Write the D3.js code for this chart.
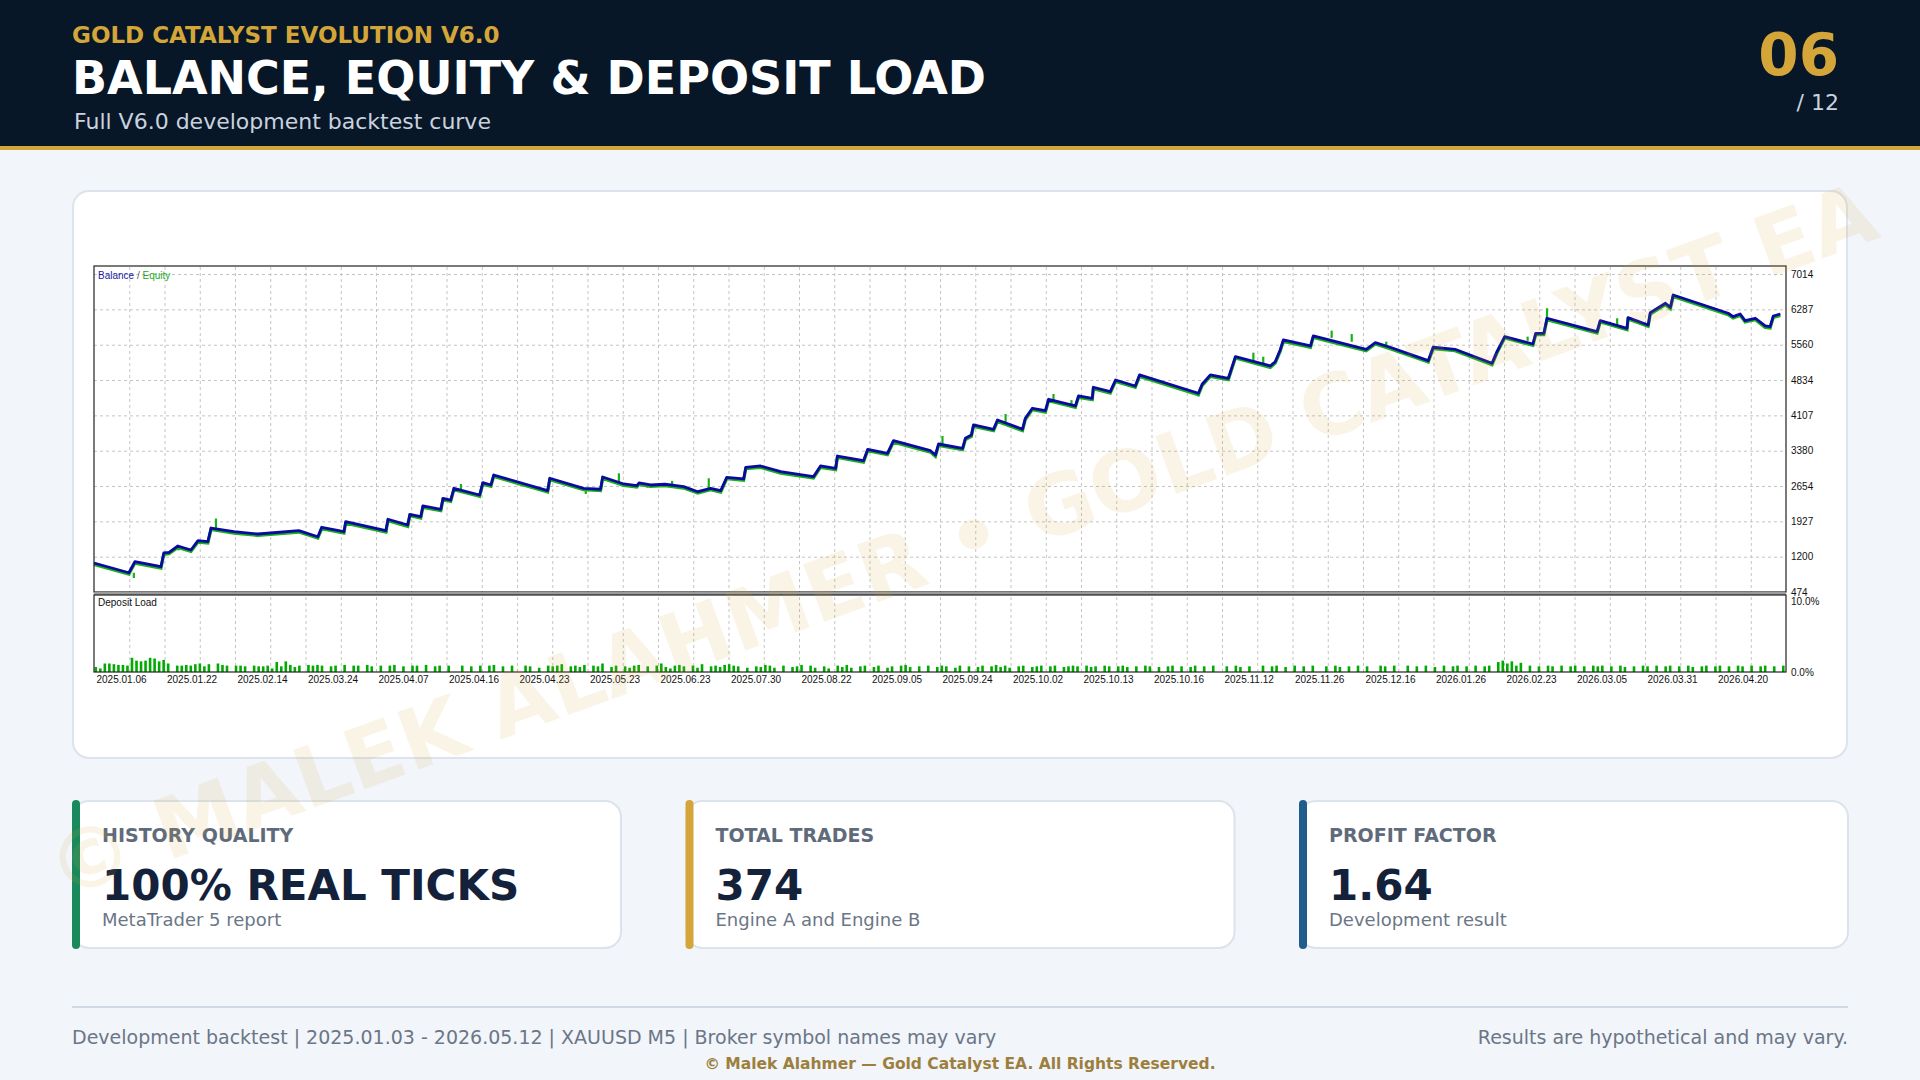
<!DOCTYPE html>
<html>
<head>
<meta charset="utf-8">
<script src="https://cdn.jsdelivr.net/npm/d3@7"></script>
<style>
  body { margin: 0; background: #f2f5fa; }
  svg { display: block; }
  .mt text { font-family: "Liberation Sans", Arial, sans-serif; font-size: 10px; fill: #111; }
</style>
</head>
<body>
<svg id="page" width="1920" height="1080"></svg>
<script>
// ---- data ----
const dateLabels = ["2025.01.06", "2025.01.22", "2025.02.14", "2025.03.24", "2025.04.07", "2025.04.16",
  "2025.04.23", "2025.05.23", "2025.06.23", "2025.07.30", "2025.08.22", "2025.09.05", "2025.09.24",
  "2025.10.02", "2025.10.13", "2025.10.16", "2025.11.12", "2025.11.26", "2025.12.16", "2026.01.26",
  "2026.02.23", "2026.03.05", "2026.03.31", "2026.04.20"];

const yTicks = [474, 1200, 1927, 2654, 3380, 4107, 4834, 5560, 6287, 7014];
const loadTicks = [0, 10];

// balance curve, [grid column, balance]
const balance = [[0, 1070], [0.99, 870], [1.16, 1097], [1.90, 994], [1.98, 1277], [2.13, 1290], [2.38, 1420],
  [2.75, 1338], [2.95, 1530], [3.23, 1510], [3.32, 1790], [3.97, 1714], [4.65, 1667], [5.81, 1735],
  [6.35, 1611], [6.46, 1805], [7.09, 1714], [7.14, 1920], [8.28, 1735], [8.34, 1970], [8.90, 1852],
  [8.96, 2072], [9.27, 2023], [9.33, 2243], [9.84, 2175], [9.90, 2401], [10.12, 2366], [10.21, 2607],
  [10.94, 2469], [11.03, 2722], [11.26, 2675], [11.34, 2881], [12.87, 2558], [12.93, 2813], [13.89, 2607],
  [14.37, 2587], [14.43, 2840], [15.03, 2696], [15.40, 2660], [15.46, 2716], [15.79, 2675], [16.20, 2690],
  [16.73, 2640], [17.13, 2537], [17.49, 2607], [17.78, 2558], [17.95, 2833], [18.43, 2800], [18.49, 3039],
  [18.91, 3066], [19.48, 2949], [20.41, 2846], [20.61, 3066], [21.04, 3018], [21.09, 3271], [21.83, 3175],
  [21.95, 3409], [22.51, 3327], [22.68, 3586], [23.73, 3380], [23.87, 3292], [23.96, 3518], [24.64, 3430],
  [24.72, 3636], [24.89, 3703], [24.95, 3909], [25.52, 3821], [25.63, 4012], [26.34, 3821], [26.42, 4047],
  [26.62, 4253], [26.99, 4204], [27.08, 4438], [27.84, 4300], [27.93, 4506], [28.32, 4458], [28.35, 4685],
  [28.83, 4595], [28.98, 4835], [29.54, 4711], [29.66, 4938], [31.33, 4561], [31.44, 4753], [31.67, 4938],
  [32.18, 4870], [32.38, 5314], [33.37, 5123], [33.51, 5211], [33.65, 5452], [33.74, 5658], [34.51, 5534],
  [34.59, 5740], [36.09, 5466], [36.35, 5602], [36.77, 5508], [37.85, 5232], [37.99, 5508], [38.61, 5466],
  [39.66, 5178], [39.80, 5417], [40.02, 5726], [40.82, 5575], [40.90, 5795], [41.13, 5795], [41.22, 6104],
  [42.64, 5828], [42.73, 6055], [43.49, 5898], [43.52, 6117], [44.09, 5966], [44.15, 6219], [44.58, 6413],
  [44.72, 6330], [44.80, 6583], [46.36, 6207], [46.50, 6137], [46.70, 6192], [46.84, 6055], [47.13, 6104],
  [47.41, 5946], [47.55, 5932], [47.64, 6151], [47.84, 6192]];

// equity excursions away from balance, [grid column, from, to]
const equitySpikes = [[1.13, 870, 762], [2.40, 1400, 1330], [3.46, 1790, 1985], [4.20, 1700, 1650],
  [6.35, 1611, 1560], [8.30, 1740, 1690], [10.41, 2560, 2695], [12.20, 2700, 2650], [13.95, 2600, 2490],
  [14.89, 2720, 2915], [15.70, 2680, 2620], [16.40, 2680, 2760], [17.13, 2537, 2490], [17.44, 2590, 2813],
  [19.90, 2900, 2850], [21.80, 3180, 3130], [23.87, 3292, 3250], [24.07, 3500, 3683], [25.86, 3950, 4135],
  [26.34, 3821, 3770], [27.22, 4420, 4547], [27.73, 4330, 4420], [30.20, 4830, 4780], [31.33, 4561, 4500],
  [32.89, 5220, 5397], [33.17, 5170, 5314], [35.11, 5700, 5849], [35.68, 5620, 5781], [36.66, 5515, 5623],
  [37.85, 5232, 5180], [39.66, 5178, 5120], [40.67, 5640, 5726], [41.22, 6104, 6310], [42.10, 5930, 5880],
  [43.21, 5950, 6104], [45.60, 6400, 6350], [47.55, 5932, 5880]];

// deposit load in %, one value per trade (0 = no bar)
const depositLoad = [
  0.7, 0.5, 1.2, 1.2, 1.1, 1.0, 1.0, 0.9, 2.0, 1.6, 1.5, 1.6, 2.0, 1.9, 1.5, 1.7, 1.2,
  0, 0.9, 0.9, 1.0, 0.9, 1.1, 1.2, 0.8, 1.1, 0, 1.2, 1.0, 0.9,
  0, 0.9, 0.9, 0.8, 0, 0.9, 0.8, 0.8, 0.9, 0.5, 1.4, 0.8, 1.5, 1.0, 0.7,
  0.9, 0, 1.0, 0.9, 1.0, 0.9, 0, 0.8, 0.9, 0, 1.0, 0, 0.9, 0.9, 0, 1.0, 0.8, 0, 0.9, 0,
  0.9, 1.0, 0, 0.8, 0, 0.9, 0.9, 0, 1.0, 0, 0.8, 0.9, 0, 0.9, 0, 0, 0.9, 0, 0.8, 0,
  0.9, 0, 0.9, 1.0, 0, 0.8, 0, 0.9, 0, 0, 0.9, 0.8, 0, 0.6, 0, 0.9, 0.8, 0.9, 1.1, 0,
  0.8, 0.9, 0.7, 1.0, 0, 0.9, 0.8, 1.2, 0, 0.7, 0.9, 0, 0.8, 0.6, 0.9, 1.0, 0, 0.8, 0, 0.9,
  1.2, 0.7, 0.5, 0.9, 1.0, 0.8, 0, 0.9, 0.6, 1.1, 0, 0.8, 0.9, 0.7, 1.0, 1.1, 0.9, 0.8, 0, 0.6,
  0, 0.8, 0.7, 1.0, 0.9, 0.6, 0, 0.9, 0, 0.7, 0.8, 1.0, 0, 0.9, 0.6, 0, 0.8, 0.5, 0, 0.9,
  0.7, 1.0, 0.6, 0, 0.8, 0.9, 0, 0.7, 0.9, 0, 0.6, 0.8, 0, 0.9, 1.0, 0.7, 0, 0.8, 0, 0.9,
  0, 0.7, 0.9, 0.8, 0, 0.6, 0.9, 0, 0.8, 0, 0.7, 0.9, 0, 0.8, 1.0, 0.7, 0.9, 0.6, 0, 0.8,
  0.9, 0, 0.7, 0.8, 0.9, 0, 0.8, 0.9, 0, 0.7, 0.8, 0.9, 0.8, 0, 0.9, 0.7, 0.8, 0, 0.9, 0.8,
  0, 0.8, 0.9, 0.7, 0, 0.8, 0, 0.9, 0.8, 0, 0.7, 0, 0.8, 0.9, 0, 0.8, 0, 0.7, 0.9, 0,
  0.8, 0, 0.9, 0, 0, 0.8, 0, 0.9, 0.7, 0, 0.8, 0, 0, 0.9, 0, 0.8, 0.9, 0, 0.7, 0,
  0.9, 0, 0.8, 0, 0.9, 0, 0, 0.8, 0, 0.9, 0.7, 0, 0.8, 0, 0.9, 0, 0.8, 0, 0, 0.9,
  0.8, 0, 0.9, 0, 0, 0.9, 0, 0.8, 0, 0.9, 0, 0.7, 0, 0.9, 0, 0.8, 0.9, 0, 0.8, 0,
  0.9, 0, 0.8, 0.9, 0, 1.4, 1.6, 1.2, 1.5, 0.9, 1.3, 0, 0.9, 0, 0.8, 0, 0.9, 0.8, 0, 0.9,
  0, 0.8, 0.9, 0, 0.8, 0, 0.9, 0.8, 0.9, 0, 0.8, 0, 0.9, 0.7, 0, 0.8, 0, 0.9, 0.8, 0,
  0.9, 0, 0.8, 0.9, 0, 0.8, 0, 0.9, 0.7, 0, 0.8, 0.9, 0, 0.8, 0.9, 0, 0.8, 0, 0.9, 0.8,
  0, 0.9, 0, 0.8, 0.9, 0, 0.8, 0, 0.9];

const cardLabels = ["HISTORY QUALITY", "TOTAL TRADES", "PROFIT FACTOR"];
const cardValues = ["100% REAL TICKS", "374", "1.64"];
const cardNotes = ["MetaTrader 5 report", "Engine A and Engine B", "Development result"];
const cardAccents = ["#1a8a5c", "#d4a63a", "#1f5d8c"];

const svg = d3.select("#page");
const font = "'DejaVu Sans', Verdana, sans-serif";

svg.append("rect").attr("width", 1920).attr("height", 1080).attr("fill", "#f2f5fa");

// ---- header ----
svg.append("rect").attr("width", 1920).attr("height", 146).attr("fill", "#071727");
svg.append("rect").attr("y", 146).attr("width", 1920).attr("height", 4).attr("fill", "#d4a63a");

function label(x, y, txt, size, weight, color, anchor) {
  return svg.append("text")
    .attr("x", x).attr("y", y)
    .attr("font-family", font)
    .attr("font-size", size)
    .attr("font-weight", weight)
    .attr("fill", color)
    .attr("text-anchor", anchor || "start")
    .text(txt);
}

label(72, 43, "GOLD CATALYST EVOLUTION V6.0", 23, "bold", "#d4a63a");
label(72, 94, "BALANCE, EQUITY & DEPOSIT LOAD", 46, "bold", "#ffffff");
label(74, 129, "Full V6.0 development backtest curve", 22, "normal", "#c9d2de");
label(1839, 75, "06", 58, "bold", "#d4a63a", "end");
label(1839, 110, "/ 12", 22, "normal", "#c9d2de", "end");

// ---- chart panel ----
svg.append("rect")
  .attr("x", 73).attr("y", 191).attr("width", 1774).attr("height", 567).attr("rx", 16)
  .attr("fill", "#ffffff").attr("stroke", "#dce3ec").attr("stroke-width", 2);

const pLeft = 94, pRight = 1786, pTop = 266, pMid = 592, pLowTop = 595, pBottom = 672;

const x = d3.scaleLinear().domain([0, 48]).range([pLeft, pRight]);
const y = d3.scaleLinear().domain([474, 7179]).range([pMid, pTop]);
const yLoad = d3.scaleLinear().domain([0, 10.85]).range([pBottom, pLowTop]);
const xTrade = d3.scaleLinear().domain([0, depositLoad.length]).range([pLeft, pRight]);

const mt = svg.append("g").attr("class", "mt");

// vertical grid, both panes
mt.append("g")
  .attr("transform", `translate(0,${pBottom})`)
  .call(d3.axisBottom(x).tickValues(d3.range(1, 48)).tickSize(-(pBottom - pTop)).tickFormat(""))
  .call(g => g.select(".domain").remove())
  .call(g => g.selectAll("line").attr("stroke", "#c4c4c4").attr("stroke-dasharray", "3,3"));

// horizontal grid, upper pane
mt.append("g")
  .attr("transform", `translate(${pLeft},0)`)
  .call(d3.axisLeft(y).tickValues(yTicks.slice(1)).tickSize(-(pRight - pLeft)).tickFormat(""))
  .call(g => g.select(".domain").remove())
  .call(g => g.selectAll("line").attr("stroke", "#c4c4c4").attr("stroke-dasharray", "3,3"));

// deposit load bars
mt.append("g").selectAll("rect")
  .data(depositLoad.map((v, i) => [i, v]).filter(d => d[1] > 0))
  .join("rect")
  .attr("x", d => xTrade(d[0]) + 0.5)
  .attr("width", 2.6)
  .attr("y", d => yLoad(d[1]))
  .attr("height", d => pBottom - yLoad(d[1]))
  .attr("fill", "#00aa00");

// balance / equity
const line = d3.line().x(d => x(d[0])).y(d => y(d[1]));

mt.append("path")
  .datum(balance)
  .attr("d", line)
  .attr("transform", "translate(0,1.4)")
  .attr("fill", "none")
  .attr("stroke", "#19b019")
  .attr("stroke-width", 3.2);

mt.append("g").selectAll("line")
  .data(equitySpikes)
  .join("line")
  .attr("x1", d => x(d[0])).attr("x2", d => x(d[0]))
  .attr("y1", d => y(d[1])).attr("y2", d => y(d[2]))
  .attr("stroke", "#19b019")
  .attr("stroke-width", 2.2);

mt.append("path")
  .datum(balance)
  .attr("d", line)
  .attr("fill", "none")
  .attr("stroke", "#0a0aa0")
  .attr("stroke-width", 2.8)
  .attr("stroke-linejoin", "round");

// pane frames
mt.append("rect").attr("x", pLeft).attr("y", pTop).attr("width", pRight - pLeft).attr("height", pMid - pTop)
  .attr("fill", "none").attr("stroke", "#222").attr("stroke-width", 1.2);
mt.append("rect").attr("x", pLeft).attr("y", pMid).attr("width", pRight - pLeft).attr("height", pLowTop - pMid)
  .attr("fill", "#9a9a9a");
mt.append("rect").attr("x", pLeft).attr("y", pLowTop).attr("width", pRight - pLeft).attr("height", pBottom - pLowTop)
  .attr("fill", "none").attr("stroke", "#222").attr("stroke-width", 1.2);

// axes
mt.append("g")
  .attr("transform", `translate(${pRight},0)`)
  .call(d3.axisRight(y).tickValues(yTicks).tickSize(0).tickPadding(5).tickFormat(d3.format("d")))
  .call(g => g.select(".domain").remove());

mt.append("g")
  .attr("transform", `translate(${pRight},0)`)
  .call(d3.axisRight(yLoad).tickValues(loadTicks).tickSize(0).tickPadding(5).tickFormat(d => d.toFixed(1) + "%"))
  .call(g => g.select(".domain").remove());

mt.append("g")
  .attr("transform", `translate(0,${pBottom})`)
  .call(d3.axisBottom(x).tickValues(d3.range(0, 48, 2)).tickSize(0).tickPadding(4)
    .tickFormat((d, i) => dateLabels[i]))
  .call(g => g.select(".domain").remove())
  .call(g => g.selectAll("text").attr("text-anchor", "start").attr("dx", 2));

const legend = mt.append("text").attr("x", pLeft + 4).attr("y", 279);
legend.append("tspan").attr("fill", "#1a1aa8").text("Balance");
legend.append("tspan").attr("fill", "#556").text(" / ");
legend.append("tspan").attr("fill", "#22aa22").text("Equity");

mt.append("text").attr("x", pLeft + 4).attr("y", 606).text("Deposit Load");

// ---- cards ----
cardLabels.forEach((lab, i) => {
  const x0 = 72 + i * 613.5;
  svg.append("rect")
    .attr("x", x0 + 1).attr("y", 801).attr("width", 548).attr("height", 147).attr("rx", 16)
    .attr("fill", "#ffffff").attr("stroke", "#dce3ec").attr("stroke-width", 2);
  svg.append("rect")
    .attr("x", x0).attr("y", 800).attr("width", 8).attr("height", 149).attr("rx", 4)
    .attr("fill", cardAccents[i]);
  label(x0 + 30, 842, lab, 19, "bold", "#5f6b7b");
  label(x0 + 30, 900, cardValues[i], 42, "bold", "#14213a");
  label(x0 + 30, 926, cardNotes[i], 18, "normal", "#6b7686");
});

// ---- footer ----
svg.append("rect").attr("x", 72).attr("y", 1006).attr("width", 1776).attr("height", 2).attr("fill", "#cfd8e3");
label(72, 1044, "Development backtest | 2025.01.03 - 2026.05.12 | XAUUSD M5 | Broker symbol names may vary",
  19, "normal", "#6b7687");
label(1848, 1044, "Results are hypothetical and may vary.", 19, "normal", "#6b7687", "end");
label(960, 1069, "\u00a9 Malek Alahmer \u2014 Gold Catalyst EA. All Rights Reserved.", 15.5, "bold", "#9c7f3c", "middle");

// ---- watermark ----
svg.append("text")
  .attr("transform", "translate(962,542) rotate(-20)")
  .attr("y", 28)
  .attr("text-anchor", "middle")
  .attr("font-family", font)
  .attr("font-size", 84)
  .attr("font-weight", "bold")
  .attr("fill", "#d4a63a")
  .attr("fill-opacity", 0.12)
  .attr("pointer-events", "none")
  .text("\u00a9 MALEK ALAHMER \u2022 GOLD CATALYST EA");
</script>
</body>
</html>
